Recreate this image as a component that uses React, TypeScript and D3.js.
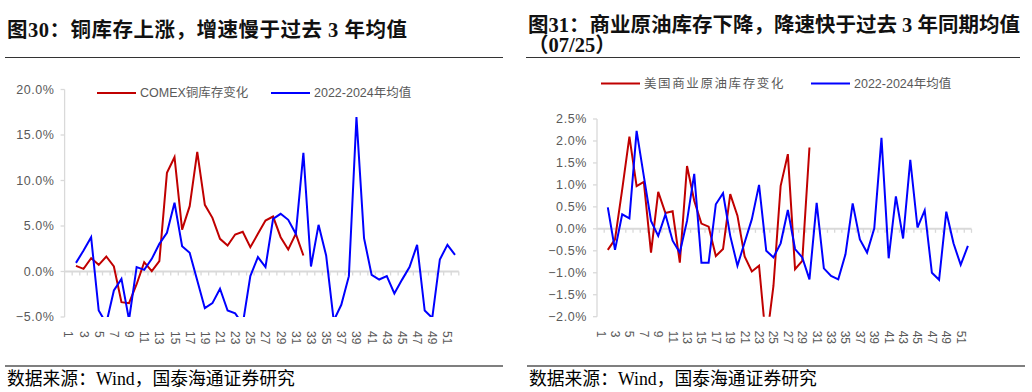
import React, { useEffect, useRef } from 'react';
import * as d3 from 'd3';

// weeks of the year (category axis)
const weeks = d3.range(1, 53);
const oddWeekLabels = weeks.filter(w => w % 2 === 1);

// 图30 — COMEX copper inventory change (%), week 1 has no value
const comexCopper = [null, 0.62, 0.29, 1.47, 0.73, 1.65, 0.55, -3.37, -3.48, -1.4, 1.03, 0.04, 1.13, 10.84, 12.56, 4.6, 7.18, 13.15, 7.33, 5.9, 3.59, 2.86, 4.07, 4.36, 2.67, 4.14, 5.6, 6.04, 3.77, 2.42, 4.14, 1.76];
const copperAvg = [null, 0.95, 2.31, 3.77, -4.29, -5.7, -2.09, -0.81, -5.3, 0.48, 0.18, 1.39, 3.04, 4.25, 7.55, 2.78, 2.05, -0.99, -4.03, -3.48, -1.9, -4.29, -4.6, -5.8, -0.5, 1.58, 0.48, 5.79, 6.34, 5.68, 4.14, 13.04, 0.55, 5.13, 1.76, -5.4, -3.66, -0.51, 16.96, 3.66, -0.37, -0.88, -0.51, -2.42, -0.92, 0.48, 2.93, -4.29, -5.1, 1.32, 2.93, 1.83];
const copperTicks = [-5, 0, 5, 10, 15, 20];

// 图31 — US commercial crude inventory change (%)
const usCrude = [null, -0.48, -0.24, 0.9, 2.1, 0.97, 1.07, -0.54, 0.84, 0.36, 0.4, -0.77, 1.43, 0.64, 0.12, 0.05, -0.62, -0.46, 0.79, 0.3, -0.63, -0.97, -0.84, -2.6, -1.3, 0.98, 1.7, -0.92, -0.73, 1.85];
const crudeAvg = [null, 0.49, -0.48, 0.33, 0.24, 2.23, 1.2, 0.18, -0.16, 0.33, -0.27, -0.54, 0.18, 1.25, -0.77, -0.77, 0.56, 0.81, -0.16, -0.84, -0.31, 0.22, 1.0, -0.5, -0.65, -0.33, 0.43, -0.46, -0.65, -1.15, 0.59, -0.9, -1.07, -1.15, -0.58, 0.58, -0.24, -0.54, 0.01, 2.07, -0.67, 0.74, -0.22, 1.57, 0.03, 0.42, -1.0, -1.16, 0.39, -0.33, -0.82, -0.39];
const crudeTicks = [-2, -1.5, -1, -0.5, 0, 0.5, 1, 1.5, 2, 2.5];

const RED = '#C00000';
const BLUE = '#0000FF';
const AXIS = '#D9D9D9';
const LABEL = '#595959';
const SANS = '"Liberation Sans", Arial, "Noto Sans CJK SC", sans-serif';
const SERIF = '"Liberation Serif", "Times New Roman", "Noto Sans CJK SC", serif';

function drawPanel(svg, p) {
  const x = d3.scaleBand().domain(weeks).range([p.left, p.right]);
  const y = d3.scaleLinear().domain(p.domain).range([p.bottom, p.top]);
  const cx = w => x(w) + x.bandwidth() / 2;
  const g = svg.append('g');

  // clip to plot area
  g.append('clipPath').attr('id', p.id + '-clip')
    .append('rect')
    .attr('x', p.left).attr('y', p.top)
    .attr('width', p.right - p.left).attr('height', p.bottom - p.top);

  // value axis
  g.append('line')
    .attr('x1', p.left).attr('x2', p.left)
    .attr('y1', y(p.domain[0])).attr('y2', y(p.domain[1]))
    .attr('stroke', AXIS).attr('stroke-width', 1.3);
  p.ticks.forEach(t => {
    g.append('line')
      .attr('x1', p.left - 4).attr('x2', p.left)
      .attr('y1', y(t)).attr('y2', y(t))
      .attr('stroke', AXIS).attr('stroke-width', 1.3);
    g.append('text')
      .attr('x', p.left - 10).attr('y', y(t))
      .attr('text-anchor', 'end').attr('dominant-baseline', 'central')
      .attr('fill', LABEL).style('font-family', SANS).style('font-size', '12.5px')
      .style('letter-spacing', '0.6px')
      .text(d3.format('.1f')(t) + '%');
  });

  // category axis on zero
  g.append('line')
    .attr('x1', p.left).attr('x2', p.right)
    .attr('y1', y(0)).attr('y2', y(0))
    .attr('stroke', AXIS).attr('stroke-width', 2);
  weeks.forEach(w => {
    g.append('line')
      .attr('x1', x(w) + x.bandwidth()).attr('x2', x(w) + x.bandwidth())
      .attr('y1', y(0)).attr('y2', y(0) + 4)
      .attr('stroke', AXIS).attr('stroke-width', 1.3);
  });
  oddWeekLabels.forEach(w => {
    g.append('text')
      .attr('transform', 'translate(' + cx(w) + ',' + (p.bottom + 14) + ') rotate(90)')
      .attr('dominant-baseline', 'central')
      .attr('fill', LABEL).style('font-family', SANS).style('font-size', '12px')
      .text(w);
  });

  // series
  const line = d3.line()
    .defined(d => d.v != null)
    .x(d => cx(d.w))
    .y(d => y(d.v));
  p.series.forEach(s => {
    g.append('path')
      .datum(s.values.map((v, i) => ({ w: weeks[i], v: v })))
      .attr('clip-path', 'url(#' + p.id + '-clip)')
      .attr('fill', 'none')
      .attr('stroke', s.color).attr('stroke-width', 2)
      .attr('stroke-linejoin', 'miter')
      .attr('d', line);
  });

  // legend
  p.series.forEach(s => {
    g.append('line')
      .attr('x1', s.lx).attr('x2', s.lx + 39)
      .attr('y1', p.legendY).attr('y2', p.legendY)
      .attr('stroke', s.color).attr('stroke-width', 2);
    g.append('text')
      .attr('x', s.lx + 43).attr('y', p.legendY)
      .attr('dominant-baseline', 'central')
      .attr('fill', LABEL).style('font-family', SANS).style('font-size', '12.5px')
      .style('letter-spacing', s.spacing || '0px')
      .text(s.name);
  });
}

export default function App() {
  const ref = useRef(null);

  useEffect(() => {
    const svg = d3.select(ref.current);
    svg.selectAll('*').remove();

    // titles
    const titles = [
      { x: 7, y: 37, text: '图30：铜库存上涨，增速慢于过去 3 年均值', spacing: '0.5px' },
      { x: 528, y: 32, text: '图31：商业原油库存下降，降速快于过去 3 年同期均值', spacing: '0px' },
      { x: 528, y: 52, text: '（07/25）', spacing: '0px' }
    ];
    titles.forEach(t => {
      svg.append('text').attr('x', t.x).attr('y', t.y)
        .attr('fill', '#111').style('font-family', SERIF)
        .style('font-size', '20.5px').style('font-weight', 'bold')
        .style('letter-spacing', t.spacing)
        .text(t.text);
    });
    [[5, 503], [526, 1020]].forEach(r => {
      svg.append('line').attr('x1', r[0]).attr('x2', r[1])
        .attr('y1', 57.5).attr('y2', 57.5)
        .attr('stroke', '#333').attr('stroke-width', 1);
    });

    drawPanel(svg, {
      id: 'copper', left: 64.6, right: 458.8, top: 89.5, bottom: 317,
      domain: [-5, 20], ticks: copperTicks, legendY: 93,
      series: [
        { name: 'COMEX铜库存变化', values: comexCopper, color: RED, lx: 97 },
        { name: '2022-2024年均值', values: copperAvg, color: BLUE, lx: 271 }
      ]
    });

    drawPanel(svg, {
      id: 'crude', left: 597, right: 971.5, top: 119, bottom: 316.7,
      domain: [-2, 2.5], ticks: crudeTicks, legendY: 83.5,
      series: [
        { name: '美国商业原油库存变化', values: usCrude, color: RED, lx: 601, spacing: '1.6px' },
        { name: '2022-2024年均值', values: crudeAvg, color: BLUE, lx: 811 }
      ]
    });

    // sources
    [[5, 503, 7], [527, 1025, 529]].forEach(r => {
      svg.append('line').attr('x1', r[0]).attr('x2', r[1])
        .attr('y1', 366).attr('y2', 366)
        .attr('stroke', '#7F7F7F').attr('stroke-width', 2);
      svg.append('text').attr('x', r[2]).attr('y', 385)
        .attr('fill', '#000').style('font-family', SERIF).style('font-size', '17.8px')
        .text('数据来源：Wind，国泰海通证券研究');
    });
  }, []);

  return (
    <svg ref={ref} width={1032} height={392}
      style={{ position: 'absolute', left: 0, top: 0, background: '#fff' }} />
  );
}
